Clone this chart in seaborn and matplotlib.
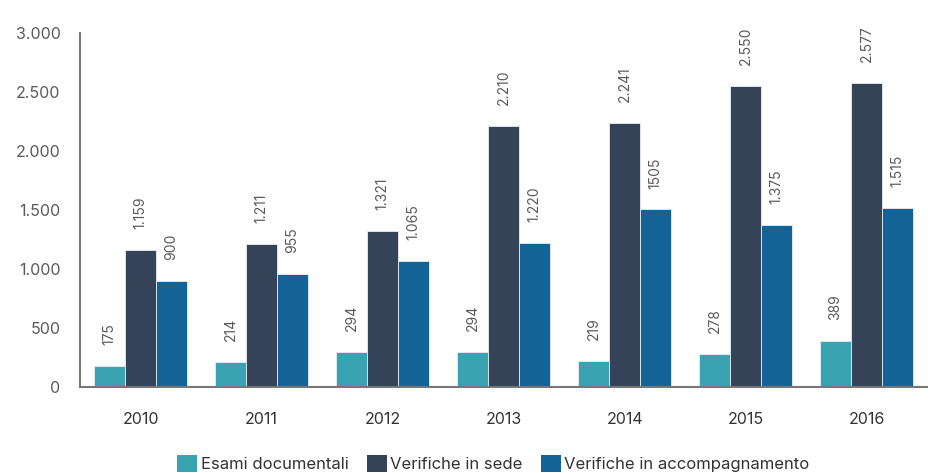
import matplotlib
matplotlib.use("Agg")
import matplotlib.pyplot as plt
from matplotlib.ticker import FuncFormatter, FixedLocator
from matplotlib.patches import Patch
import seaborn as sns
import pandas as pd

years = ["2010", "2011", "2012", "2013", "2014", "2015", "2016"]
series_names = ["Esami documentali", "Verifiche in sede", "Verifiche in accompagnamento"]
esami = [175, 214, 294, 294, 219, 278, 389]
sede = [1159, 1211, 1321, 2210, 2241, 2550, 2577]
accomp = [900, 955, 1065, 1220, 1505, 1375, 1515]
# labels as printed on the chart
esami_lbl = ["175", "214", "294", "294", "219", "278", "389"]
sede_lbl = ["1.159", "1.211", "1.321", "2.210", "2.241", "2.550", "2.577"]
accomp_lbl = ["900", "955", "1.065", "1.220", "1505", "1.375", "1.515"]
yticks = [0, 500, 1000, 1500, 2000, 2500, 3000]

colors = ["#3aa3b1", "#344358", "#146397"]
grey = "#5a5a5a"

df = pd.DataFrame({
    "anno": years * 3,
    "serie": [series_names[0]] * 7 + [series_names[1]] * 7 + [series_names[2]] * 7,
    "valore": esami + sede + accomp,
})

sns.set_style("white")
plt.rcParams["font.family"] = ["Inter", "DejaVu Sans"]

fig = plt.figure(figsize=(9.36, 4.73), dpi=100)
ax = fig.add_axes([0.0855, 0.182, 0.905, 0.748])

sns.barplot(data=df, x="anno", y="valore", hue="serie", palette=colors,
            width=0.77, gap=0, ax=ax, legend=False, saturation=1,
            edgecolor="#e8eef2", linewidth=0.6)

for cont, lbls in zip(ax.containers, [esami_lbl, sede_lbl, accomp_lbl]):
    for bar, txt in zip(cont, lbls):
        ax.annotate(txt, (bar.get_x() + bar.get_width() / 2, bar.get_height()),
                    xytext=(0, 15), textcoords="offset points", rotation=90,
                    ha="center", va="bottom", fontsize=10, color=grey)

ax.set_xlim(-0.5, 6.5)
ax.set_ylim(0, 3000)
ax.set_yticks(yticks)
ax.yaxis.set_major_formatter(FuncFormatter(lambda v, p: f"{int(v):,}".replace(",", ".")))
ax.set_xlabel("")
ax.set_ylabel("")

for s in ["top", "right"]:
    ax.spines[s].set_visible(False)
for s in ["left", "bottom"]:
    ax.spines[s].set_color("#777777")
    ax.spines[s].set_linewidth(1.5)

ax.tick_params(axis="y", direction="in", length=9, width=1.3, color="#777777",
               labelsize=11.5, labelcolor=grey, pad=14)
ax.tick_params(axis="x", which="major", length=0, labelsize=11.5, labelcolor="#333333", pad=18)
ax.xaxis.set_minor_locator(FixedLocator([0.5, 1.5, 2.5, 3.5, 4.5, 5.5]))
ax.tick_params(axis="x", which="minor", direction="in", length=7, width=1.3, color="#777777")

handles = [Patch(facecolor=c, edgecolor="none") for c in colors]
fig.legend(handles, series_names, loc="lower center", bbox_to_anchor=(0.527, -0.03),
           ncol=3, frameon=False, fontsize=12, handlelength=1.2, handleheight=1.2,
           handletextpad=0.2, columnspacing=1.1, labelcolor="#333333")

fig.savefig("out.png", dpi=100)
